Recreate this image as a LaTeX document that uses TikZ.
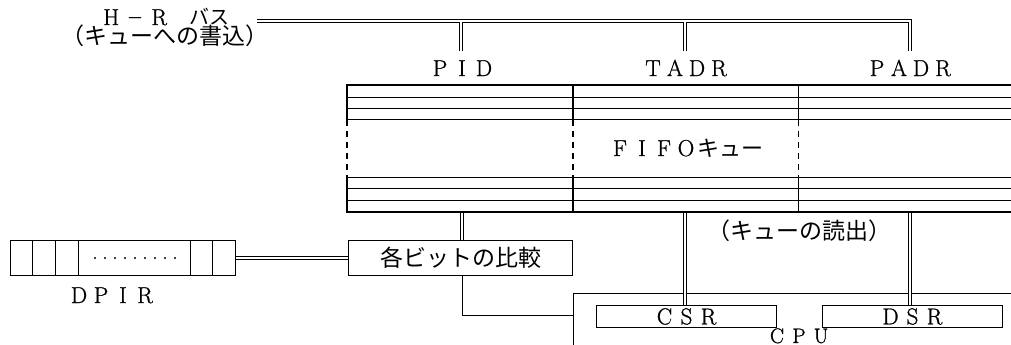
\documentclass[tikz,border=0pt]{standalone}
\usepackage{fontspec}
\newfontfamily\jp{Noto Sans CJK JP}
\newfontfamily\latw{lmroman17-regular.otf}[FakeBold=1.0]
\newcommand\latsz{\latw\fontsize{23}{23}\selectfont}
\newcommand\latsm{\latw\fontsize{23}{23}\selectfont}
\newcommand\jpsz{\jp\fontsize{23}{23}\selectfont}
\newcommand\fwcell[1]{\makebox[22pt]{#1}}
\def\fwloop#1{\ifx#1\relax\else\fwcell{#1}\expandafter\fwloop\fi}
\newcommand\fwtext[1]{\fwloop#1\relax}
\begin{document}
\begin{tikzpicture}[x=1pt,y=-1pt,
  box/.style={draw,line width=1pt,inner sep=0pt,outer sep=0pt,rectangle},
  dbl/.style={line width=1pt,double,double distance=2pt},
  thinline/.style={line width=1pt},
  fifoout/.style={line width=2pt},
  fifoin/.style={line width=1pt},
  lab/.style={inner sep=0pt,anchor=base,font=\latsz},
  jlab/.style={inner sep=0pt,anchor=base,font=\jpsz}]
\useasboundingbox (0,0) rectangle (1011,345);
\clip (0,0) rectangle (1011,345);
\fill[white] (0,0) rectangle (1011,345);

% ---- FIFO queue (open on the right)
\node[inner sep=0pt,outer sep=0pt,minimum width=664pt,minimum height=127pt,anchor=north west] (fifo) at (347,85) {};
\foreach \yy in {97.5,108.5,119.5,177.5,188.5,200.5} \draw[fifoin] (347,\yy) -- (1015,\yy);
\draw[fifoout] (346,85) -- (1015,85);
\draw[fifoout] (346,212) -- (1015,212);
\foreach \xx/\w in {347/2pt,573/2pt,798.5/1pt}{
  \draw[line width=\w] (\xx,85) -- (\xx,119.5);
  \draw[line width=\w,dash pattern=on 6pt off 5pt] (\xx,119.5) -- (\xx,177.5);
  \draw[line width=\w] (\xx,177.5) -- (\xx,212);
}
\node[lab] (fifolab) at (686,156) {\fwtext{FIFO}{\jp\fontsize{22}{22}\selectfont キュー}};

% ---- column labels
\node[lab] (pidlab)  at (462,76) {\fwtext{PID}};
\node[lab] (tadrlab) at (686,76) {\fwtext{TADR}};
\node[lab] (padrlab) at (910,76) {\fwtext{PADR}};

% ---- H-R bus
\node[inner sep=0pt,anchor=base west,font=\latsm] (hrlab) at (99,25)
  {\makebox[24pt]{H}\makebox[24pt]{\jp\fontsize{17}{17}\selectfont －}\makebox[24pt]{R}\hspace{18pt}{\jp\fontsize{20}{20}\selectfont バス}};
\node[jlab] (wrlab) at (165,45) {（キューへの書込）};
\coordinate (busL) at (257,21);
\coordinate (busR) at (910,21);
\coordinate (pidJ) at (461,22);
\coordinate (pidE) at (461,51);
\coordinate (tadrJ) at (685,22);
\coordinate (tadrE) at (685,51);
\coordinate (padrE) at (910,51);
\draw[dbl] (busL) -- (busR) -- (padrE);
\draw[dbl] (pidJ) -- (pidE);
\draw[dbl] (tadrJ) -- (tadrE);

% ---- comparison and DPIR
\node[box,minimum width=224pt,minimum height=35pt,font=\jpsz] (comp) at (460.5,258) {各ビットの比較};
\node[box,minimum width=225pt,minimum height=35pt] (dpir) at (123,258) {};
\foreach \xx in {32.5,55.5,78.5,190.5,212.5} \draw[thinline] (\xx,240.5) -- (\xx,275.5);
\foreach \i in {0,...,8} \fill (95+\i*10,258) circle (1.1pt);
\node[lab] (dpirlab) at (112,303) {\fwtext{DPIR}};
\coordinate (pidB) at (462,213);
\draw[dbl,shorten >=0.5pt] (pidB) -- (pidB |- comp.north);
\draw[dbl,shorten <=0.5pt,shorten >=0.5pt] (dpir.east) -- (comp.west);

% ---- CPU
\node[box,minimum width=500pt,minimum height=120pt,anchor=north west] (cpu) at (573.5,293.5) {};
\node[box,minimum width=180pt,minimum height=22pt,font=\latsz] (csr) at (686.5,316.5) {\fwtext{CSR}};
\node[box,minimum width=180pt,minimum height=22pt,font=\latsz] (dsr) at (912.5,316.5) {\fwtext{DSR}};
\node[lab,font=\latw\fontsize{21}{21}\selectfont] (cpulab) at (799,343) {\fwtext{CPU}};
\coordinate (rd1) at (685,213);
\coordinate (rd2) at (910,213);
\draw[dbl,shorten >=0.5pt] (rd1) -- (rd1 |- csr.north);
\draw[dbl,shorten >=0.5pt] (rd2) -- (rd2 |- dsr.north);
\node[jlab] (rdlab) at (799,239) {（キューの読出）};
\coordinate (cbot) at (462.5,275.5);
\coordinate (cpuIn) at (573.5,315.5);
\draw[thinline] (cbot) |- (cpuIn);
\end{tikzpicture}
\end{document}
